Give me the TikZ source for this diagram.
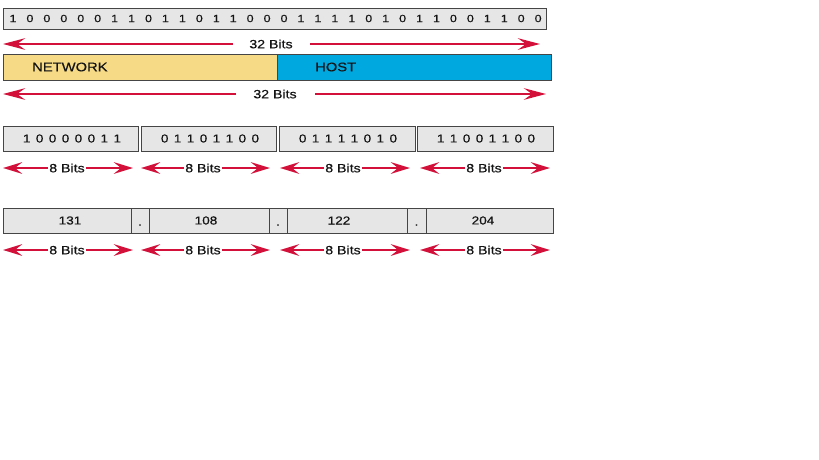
\documentclass[tikz,border=0pt]{standalone}
\usepackage{fontspec}
\setmainfont{Liberation Sans}[FakeStretch=1.18,FakeBold=0.4]
\usetikzlibrary{arrows.meta}
\definecolor{boxfill}{HTML}{E6E6E6}
\definecolor{boxline}{HTML}{454545}
\definecolor{netyellow}{HTML}{F6DA85}
\definecolor{hostblue}{HTML}{00A8E0}
\definecolor{arrred}{HTML}{D2103A}
\definecolor{txtcol}{HTML}{141414}
\newcommand\octspaced[8]{#1\kern5.4pt#2\kern5.4pt#3\kern5.4pt#4\kern5.4pt#5\kern5.4pt#6\kern5.4pt#7\kern5.4pt#8}
\begin{document}
\begin{tikzpicture}[x=1pt,y=-1pt,
  gbox/.style={draw=boxline,fill=boxfill,line width=1.3pt,inner sep=0pt,anchor=north west},
  ybox/.style={draw=boxline,fill=netyellow,line width=1.3pt,inner sep=0pt,anchor=north west},
  bbox/.style={draw=boxline,fill=hostblue,line width=1.3pt,inner sep=0pt,anchor=north west},
  lbl/.style={text=txtcol,inner sep=0pt,font=\fontsize{12}{14}\selectfont},
  biglbl/.style={text=txtcol,inner sep=0pt,font=\fontsize{12.5}{14}\selectfont},
  bitlbl/.style={text=txtcol,inner sep=0pt,font=\fontsize{10.5}{12}\selectfont},
  octlbl/.style={text=txtcol,inner sep=0pt,font=\fontsize{11.5}{13}\selectfont},
  redarr/.style={draw=arrred,line width=2.9pt,-{Stealth[length=19pt,width=11.5pt,inset=7pt]}},
  bigarr/.style={draw=arrred,line width=2.9pt,-{Stealth[length=22pt,width=11.5pt,inset=8pt]}}
]
\useasboundingbox[fill=white] (0,0) rectangle (819,460);

% top 32-bit box
\node[gbox,minimum width=543pt,minimum height=21pt] (bitsbox) at (3,8) {};
\foreach \d [count=\i from 0] in {1,0,0,0,0,0,1,1,0,1,1,0,1,1,0,0,0,1,1,1,1,0,1,0,1,1,0,0,1,1,0,0}
  \node[bitlbl] (b\i) at ({13+16.94*\i},18.5) {\d};

% 32 bits arrow row 1
\node[lbl] (t32a) at (271,44) {32 Bits};
\coordinate (a1l0) at (233,44);
\coordinate (a1l1) at (3,44);
\coordinate (a1r0) at (310,44);
\coordinate (a1r1) at (540,44);
\draw[bigarr] (a1l0) -- (a1l1);
\draw[bigarr] (a1r0) -- (a1r1);

% network / host
\node[ybox,minimum width=274pt,minimum height=26pt] (net) at (3,54) {};
\node[bbox,minimum width=274pt,minimum height=26pt] (host) at (277,54) {};
\node[biglbl,anchor=west] (nettxt) at (32,67) {NETWORK};
\node[biglbl,anchor=west] (hosttxt) at (315,67) {HOST};

% 32 bits arrow row 2
\node[lbl] (t32b) at (275,94) {32 Bits};
\coordinate (a2l0) at (236,94);
\coordinate (a2l1) at (3,94);
\coordinate (a2r0) at (315,94);
\coordinate (a2r1) at (546,94);
\draw[bigarr] (a2l0) -- (a2l1);
\draw[bigarr] (a2r0) -- (a2r1);

% octets binary
\node[gbox,minimum width=135pt,minimum height=25pt] (o1) at (3,126) {};
\node[gbox,minimum width=135pt,minimum height=25pt] (o2) at (141,126) {};
\node[gbox,minimum width=136pt,minimum height=25pt] (o3) at (279,126) {};
\node[gbox,minimum width=136pt,minimum height=25pt] (o4) at (417,126) {};
\node[octlbl] (o1t) at (72,138.5) {\octspaced10000011};
\node[octlbl] (o2t) at (210,138.5) {\octspaced01101100};
\node[octlbl] (o3t) at (348,138.5) {\octspaced01111010};
\node[octlbl] (o4t) at (486,138.5) {\octspaced11001100};

% 8 bits arrows row 1
\foreach \c/\l/\r [count=\k] in {67/3/133,203/141/270,343/280/410,484/420/550}{
  \node[lbl] (e\k) at (\c,168) {8 Bits};
  \coordinate (el\k) at (\l,168);
  \coordinate (er\k) at (\r,168);
  \draw[redarr,shorten <=1pt] (e\k.west) -- (el\k);
  \draw[redarr,shorten <=1pt] (e\k.east) -- (er\k);
}

% dotted decimal
\node[gbox,minimum width=128pt,minimum height=25pt] (d1) at (3,208) {};
\node[gbox,minimum width=18pt,minimum height=25pt] (p1) at (131,208) {};
\node[gbox,minimum width=120pt,minimum height=25pt] (d2) at (149,208) {};
\node[gbox,minimum width=18pt,minimum height=25pt] (p2) at (269,208) {};
\node[gbox,minimum width=120pt,minimum height=25pt] (d3) at (287,208) {};
\node[gbox,minimum width=19pt,minimum height=25pt] (p3) at (407,208) {};
\node[gbox,minimum width=127pt,minimum height=25pt] (d4) at (426,208) {};
\node[octlbl] (d1t) at (70,220.5) {131};
\node[octlbl] (d2t) at (206,220.5) {108};
\node[octlbl] (d3t) at (339,220.5) {122};
\node[octlbl] (d4t) at (483,220.5) {204};
\node[octlbl,anchor=base] (p1t) at (140,225.5) {.};
\node[octlbl,anchor=base] (p2t) at (278,225.5) {.};
\node[octlbl,anchor=base] (p3t) at (416.5,225.5) {.};

% 8 bits arrows row 2
\foreach \c/\l/\r [count=\k] in {67/3/133,203/141/270,343/280/410,484/420/550}{
  \node[lbl] (f\k) at (\c,250) {8 Bits};
  \coordinate (fl\k) at (\l,250);
  \coordinate (fr\k) at (\r,250);
  \draw[redarr,shorten <=1pt] (f\k.west) -- (fl\k);
  \draw[redarr,shorten <=1pt] (f\k.east) -- (fr\k);
}
\end{tikzpicture}
\end{document}
